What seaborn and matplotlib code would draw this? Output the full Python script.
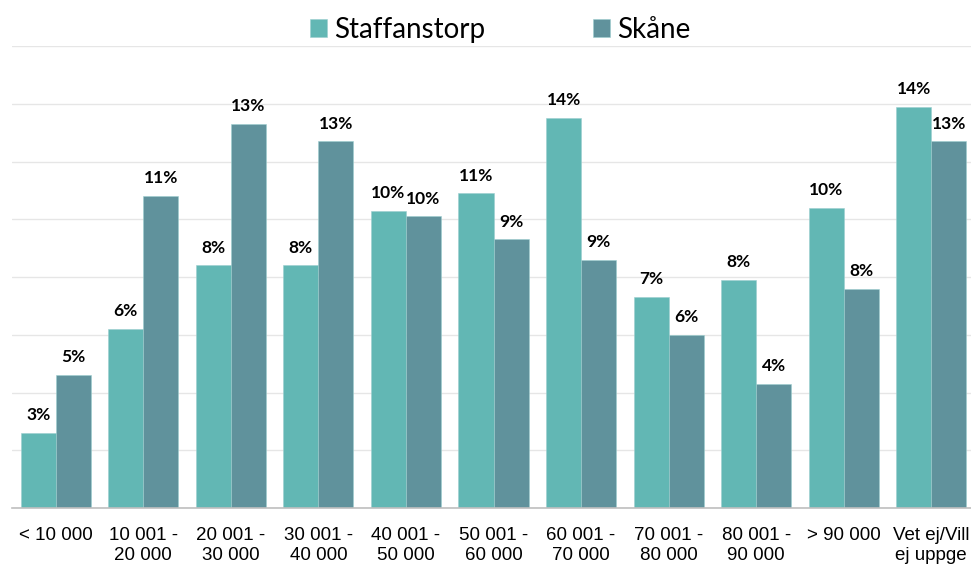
import numpy as np
import pandas as pd
import matplotlib
matplotlib.use('Agg')
import matplotlib.pyplot as plt
import seaborn as sns

categories = ['< 10 000', '10 001 -\n20 000', '20 001 -\n30 000', '30 001 -\n40 000',
              '40 001 -\n50 000', '50 001 -\n60 000', '60 001 -\n70 000', '70 001 -\n80 000',
              '80 001 -\n90 000', '> 90 000', 'Vet ej/Vill\nej uppge']
staffanstorp = [2.6, 6.2, 8.4, 8.4, 10.3, 10.9, 13.5, 7.3, 7.9, 10.4, 13.9]
skane = [4.6, 10.8, 13.3, 12.7, 10.1, 9.3, 8.6, 6.0, 4.3, 7.6, 12.7]
series = ['Staffanstorp', 'Skåne']
colors = ['#62B7B4', '#60929C']

df = pd.DataFrame({
    'Kategori': categories * 2,
    'Andel': staffanstorp + skane,
    'Serie': [series[0]] * len(categories) + [series[1]] * len(categories),
})

sns.set_style('white')
plt.rcParams['font.family'] = ['Liberation Sans', 'DejaVu Sans']

fig = plt.figure(figsize=(9.71, 5.65), dpi=100)
ax = fig.add_axes([12 / 971, 57 / 565, 963 / 971, 462 / 565])

sns.barplot(data=df, x='Kategori', y='Andel', hue='Serie', palette=colors,
            order=categories, hue_order=series, width=0.8, saturation=1,
            edgecolor='#9CCFCF', linewidth=0.4, ax=ax)

for cont in ax.containers:
    ax.bar_label(cont, labels=[f'{b.get_height():.0f}%' for b in cont], padding=7,
                 fontsize=12.5, fontweight='bold', color='black',
                 family=['Lato', 'DejaVu Sans'])

ax.set_ylim(0, 16)
ax.set_xlim(-0.5, len(categories) - 0.5)
ax.set_yticks(np.arange(0, 17, 2))
ax.set_yticklabels([])
ax.tick_params(axis='y', length=0)
ax.yaxis.grid(True, color='#E6E6E6', linewidth=1)
ax.set_axisbelow(True)

ax.set_xticks(np.arange(-0.5, len(categories), 1), minor=True)
ax.tick_params(axis='x', which='minor', length=6, color='#BFBFBF', width=1)
ax.tick_params(axis='x', which='major', length=0, labelsize=13.5, pad=14, labelcolor='black')
ax.set_xlabel('')
ax.set_ylabel('')

for s in ['top', 'right', 'left']:
    ax.spines[s].set_visible(False)
ax.spines['bottom'].set_color('#BFBFBF')
ax.spines['bottom'].set_linewidth(1.2)

leg = ax.legend(loc='center', bbox_to_anchor=(0.507, 1.035), ncol=2, frameon=False,
                prop={'family': ['Lato', 'DejaVu Sans'], 'size': 20}, handlelength=0.6,
                handleheight=0.6, handletextpad=0.25, columnspacing=3.9)
for t in leg.get_texts():
    t.set_color('black')

fig.savefig('out.png', dpi=100)
